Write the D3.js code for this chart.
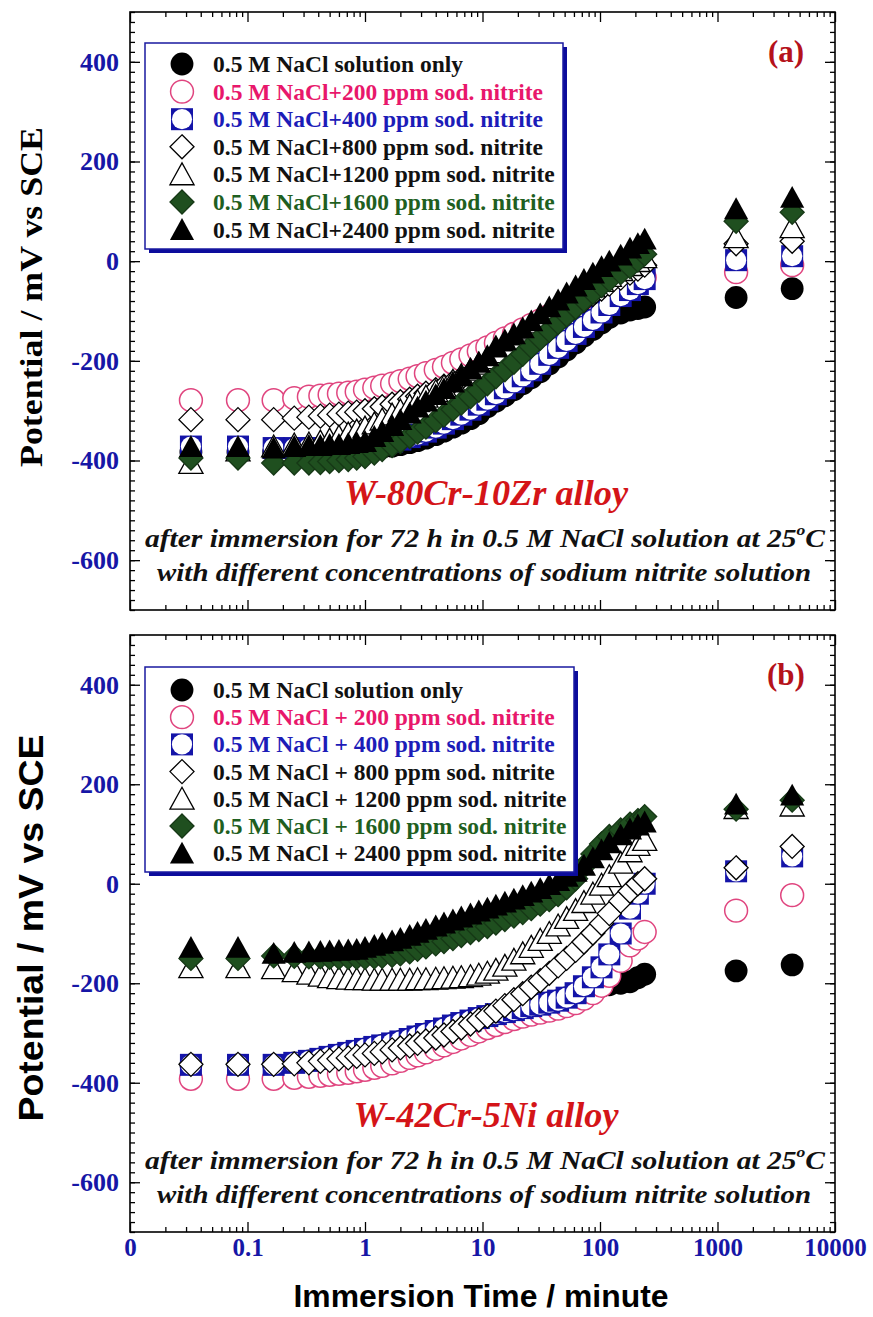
<!DOCTYPE html>
<html><head><meta charset="utf-8">
<script src="https://cdn.jsdelivr.net/npm/d3@7"></script>
<style>body{margin:0;background:#fff}svg{display:block}</style>
</head><body><svg id="c" width="873" height="1317"></svg>
<script>
// ---------------- data ----------------
const timeMin = [0.033,0.083,0.167,0.25,0.333,0.417,0.5,0.6,0.72,0.85,
  1.0,1.2,1.4,1.7,2.0,2.4,2.8,3.3,4.0,4.7,
  5.6,6.6,7.9,9.3,11,13,15.5,18.5,22,26,
  31,37,44,52,62,73,87,103,120,
  150,180,210,240,1440,4320];

const xTickValues = [0.01,0.1,1,10,100,1000,10000];
const xTickLabels = ["0","0.1","1","10","100","1000","10000"];
const yTickValues = [400,200,0,-200,-400,-600];
const yTickLabels = ["400","200","0","-200","-400","-600"];

const legendA = ["0.5 M NaCl solution only","0.5 M NaCl+200 ppm sod. nitrite","0.5 M NaCl+400 ppm sod. nitrite",
  "0.5 M NaCl+800 ppm sod. nitrite","0.5 M NaCl+1200 ppm sod. nitrite","0.5 M NaCl+1600 ppm sod. nitrite","0.5 M NaCl+2400 ppm sod. nitrite"];
const legendB = ["0.5 M NaCl solution only","0.5 M NaCl + 200 ppm sod. nitrite","0.5 M NaCl + 400 ppm sod. nitrite",
  "0.5 M NaCl + 800 ppm sod. nitrite","0.5 M NaCl + 1200 ppm sod. nitrite","0.5 M NaCl + 1600 ppm sod. nitrite","0.5 M NaCl + 2400 ppm sod. nitrite"];

// Panel (a) W-80Cr-10Zr
const a_nacl = [-383,-383,-383,-382,-382,-381,-381,-380,-380,-379,
 -378,-376,-374,-371,-368,-364,-360,-355,-348,-341,
 -333,-325,-316,-306,-292,-281,-270,-258,-246,-234,
 -222,-206,-192,-178,-164,-150,-137,-124,-113,
 -104,-98,-95,-92,-73,-55];
const a_200 = [-279,-279,-279,-275,-272,-270,-268,-266,-264,-262,
 -258,-254,-250,-246,-241,-236,-231,-225,-218,-212,
 -204,-197,-189,-181,-173,-164,-155,-146,-137,-128,
 -119,-110,-101,-92,-83,-74,-66,-58,-52,
 -45,-40,-36,-33,-22,-8];
const a_400 = [-372,-372,-375,-375,-375,-375,-374,-373,-372,-371,
 -370,-368,-366,-362,-358,-353,-348,-342,-334,-326,
 -317,-308,-298,-288,-278,-267,-255,-243,-231,-219,
 -206,-188,-174,-160,-146,-132,-118,-103,-88,
 -70,-58,-46,-36,2,10];
const a_800 = [-318,-318,-318,-315,-313,-311,-309,-307,-305,-303,
 -300,-296,-292,-287,-282,-277,-271,-265,-258,-251,
 -243,-235,-226,-217,-207,-197,-186,-175,-163,-151,
 -139,-127,-115,-103,-91,-79,-67,-56,-46,
 -34,-24,-16,-8,35,40];
const a_1200 = [-405,-380,-372,-368,-366,-362,-358,-352,-346,-340,
 -334,-326,-318,-308,-300,-290,-281,-272,-261,-251,
 -240,-229,-218,-206,-195,-183,-171,-159,-147,-135,
 -123,-111,-99,-87,-75,-63,-51,-40,-30,
 -18,-8,0,8,48,68];
const a_1600 = [-395,-395,-405,-405,-405,-404,-402,-400,-398,-395,
 -392,-385,-378,-370,-362,-352,-343,-333,-320,-309,
 -297,-285,-272,-259,-246,-232,-218,-203,-187,-171,
 -155,-139,-123,-108,-93,-78,-63,-49,-37,
 -23,-11,2,14,80,98];
const a_2400 = [-372,-372,-375,-372,-370,-370,-368,-368,-366,-364,
 -362,-352,-342,-330,-318,-305,-293,-281,-268,-256,
 -243,-230,-216,-203,-190,-170,-158,-146,-134,-120,
 -106,-92,-78,-64,-50,-37,-24,-11,0,
 12,26,35,44,105,128];

// Panel (b) W-42Cr-5Ni
const b_nacl = [-364,-364,-364,-360,-356,-352,-348,-344,-340,-336,
 -332,-328,-325,-321,-317,-312,-307,-302,-296,-291,
 -285,-280,-275,-270,-266,-262,-258,-254,-250,-246,
 -243,-239,-235,-229,-224,-216,-210,-206,-203,
 -200,-197,-189,-182,-175,-163];
const b_200 = [-392,-392,-392,-390,-388,-386,-384,-382,-380,-377,
 -374,-370,-366,-361,-356,-350,-345,-339,-332,-325,
 -318,-311,-304,-297,-290,-284,-278,-272,-267,-263,
 -259,-255,-251,-246,-240,-231,-220,-205,-185,
 -155,-124,-110,-97,-54,-23];
const b_400 = [-364,-364,-364,-360,-356,-352,-348,-344,-340,-336,
 -332,-328,-325,-321,-317,-312,-307,-302,-296,-291,
 -285,-280,-275,-270,-266,-262,-258,-254,-250,-246,
 -243,-239,-235,-229,-220,-206,-188,-168,-142,
 -100,-50,-20,0,25,55];
const b_800 = [-363,-363,-363,-362,-360,-357,-355,-352,-350,-347,
 -344,-341,-338,-334,-330,-326,-321,-316,-310,-304,
 -297,-290,-282,-274,-266,-256,-245,-233,-221,-208,
 -195,-180,-165,-150,-134,-117,-99,-80,-60,
 -35,-15,0,10,32,75];
const b_1200 = [-168,-168,-170,-176,-181,-185,-188,-190,-191,-192,
 -192,-193,-193,-193,-193,-193,-192,-192,-191,-190,
 -189,-188,-186,-183,-179,-173,-165,-153,-140,-127,
 -113,-99,-84,-69,-53,-37,-20,-2,15,
 42,65,78,88,152,157];
const b_1600 = [-150,-150,-145,-146,-147,-147,-148,-148,-148,-148,
 -148,-147,-146,-144,-141,-137,-132,-127,-121,-116,
 -110,-104,-98,-92,-86,-79,-72,-65,-58,-50,
 -41,-32,-22,-8,10,35,60,80,95,
 108,120,127,135,150,168];
const b_2400 = [-128,-128,-140,-138,-137,-136,-135,-134,-133,-132,
 -128,-124,-120,-115,-110,-104,-98,-92,-85,-79,
 -73,-67,-61,-55,-49,-43,-37,-31,-24,-17,
 -10,-2,6,15,25,37,52,68,82,
 98,110,118,124,160,178];

// ---------------- drawing ----------------
const svg = d3.select("#c");
svg.append("rect").attr("width",873).attr("height",1317).attr("fill","#fff");

const SERIF = "'Liberation Serif','Times New Roman',serif";
const SANS = "'Liberation Sans',Arial,sans-serif";
const BLUE = "#1616A6";

const styles = [
  {type:"circle", fill:"#000", stroke:"none", text:"#111"},
  {type:"circle", fill:"#fff", stroke:"#E0457F", text:"#E8176B"},
  {type:"square", fill:"#1414A8", stroke:"none", text:"#1C1CB8"},
  {type:"diamond", fill:"#fff", stroke:"#000", text:"#111"},
  {type:"triangle", fill:"#fff", stroke:"#000", text:"#111"},
  {type:"diamond", fill:"#1F4F1F", stroke:"#163816", text:"#1F5F1F"},
  {type:"triangle", fill:"#000", stroke:"none", text:"#111"}
];

const diamondType = {draw(ctx, s){ ctx.moveTo(0,-s); ctx.lineTo(s,0); ctx.lineTo(0,s); ctx.lineTo(-s,0); ctx.closePath(); }};
const triangleType = {draw(ctx, s){ ctx.moveTo(0,-s); ctx.lineTo(s*1.05,s*0.9); ctx.lineTo(-s*1.05,s*0.9); ctx.closePath(); }};

function addMarker(sel, st){
  if(st.type==="circle"){
    sel.append("path").attr("d", d3.symbol(d3.symbolCircle, 410)())
      .attr("fill", st.fill).attr("stroke", st.stroke).attr("stroke-width",1.5);
  } else if(st.type==="square"){
    sel.append("path").attr("d", d3.symbol(d3.symbolSquare, 484)()).attr("fill", st.fill);
    sel.append("path").attr("d", d3.symbol(d3.symbolCircle, 320)()).attr("fill", "#fff");
  } else if(st.type==="diamond"){
    sel.append("path").attr("d", d3.symbol(diamondType, 12)())
      .attr("fill", st.fill).attr("stroke", st.stroke).attr("stroke-width",1.3);
  } else {
    sel.append("path").attr("d", d3.symbol(triangleType, 11.5)())
      .attr("fill", st.fill).attr("stroke", st.stroke).attr("stroke-width",1.3);
  }
}

const x = d3.scaleLog().domain([0.01,10000]).range([130,835]);
const minorX = [];
for(let e=-2;e<4;e++){ for(let m=2;m<10;m++) minorX.push(m*Math.pow(10,e)); }
const minorY = d3.range(-700,501,20);

function panel(cfg){
  const y = d3.scaleLinear().domain([-700,500]).range([cfg.bot, cfg.top]);
  const g = svg.append("g");

  const styleAxis = s => { s.select(".domain").remove(); s.selectAll("line").attr("stroke","#000").attr("stroke-width",1.3); };
  g.append("g").attr("transform",`translate(0,${cfg.bot})`)
    .call(d3.axisBottom(x).tickValues(minorX).tickSize(-5).tickFormat("")).call(styleAxis);
  g.append("g").attr("transform",`translate(0,${cfg.top})`)
    .call(d3.axisTop(x).tickValues(minorX).tickSize(-5).tickFormat("")).call(styleAxis);
  g.append("g").attr("transform",`translate(0,${cfg.top})`)
    .call(d3.axisTop(x).tickValues(xTickValues).tickSize(-10).tickFormat("")).call(styleAxis);
  const xb = g.append("g").attr("transform",`translate(0,${cfg.bot})`)
    .call(d3.axisBottom(x).tickValues(xTickValues).tickSize(-10).tickPadding(6)
      .tickFormat((d,i)=> cfg.xlabels ? xTickLabels[i] : "")).call(styleAxis);
  xb.selectAll("text").attr("font-family",SERIF).attr("font-weight","bold")
    .attr("font-size",25).attr("fill",BLUE);

  g.append("g").attr("transform","translate(130,0)")
    .call(d3.axisLeft(y).tickValues(minorY).tickSize(-5).tickFormat("")).call(styleAxis);
  g.append("g").attr("transform","translate(835,0)")
    .call(d3.axisRight(y).tickValues(minorY).tickSize(-5).tickFormat("")).call(styleAxis);
  g.append("g").attr("transform","translate(835,0)")
    .call(d3.axisRight(y).tickValues(yTickValues).tickSize(-10).tickFormat("")).call(styleAxis);
  const yl = g.append("g").attr("transform","translate(130,0)")
    .call(d3.axisLeft(y).tickValues(yTickValues).tickSize(-10).tickPadding(11)
      .tickFormat((d,i)=>yTickLabels[i])).call(styleAxis);
  yl.selectAll("text").attr("font-family",SERIF).attr("font-weight","bold")
    .attr("font-size",26).attr("fill",BLUE);

  g.append("rect").attr("x",130).attr("y",cfg.top).attr("width",705).attr("height",cfg.bot-cfg.top)
    .attr("fill","none").attr("stroke","#000").attr("stroke-width",1.6);

  cfg.series.forEach((vals,k)=>{
    g.append("g").selectAll("g").data(timeMin.map((t,i)=>[t,vals[i]])).join("g")
      .attr("transform", d=>`translate(${x(d[0])},${y(d[1])})`)
      .call(sel=>addMarker(sel, styles[k]));
  });

  const L = cfg.legend;
  g.append("rect").attr("x",L.x+4).attr("y",L.y+4).attr("width",L.w).attr("height",L.h).attr("fill","#0C0C9C");
  g.append("rect").attr("x",L.x).attr("y",L.y).attr("width",L.w).attr("height",L.h)
    .attr("fill","#fff").attr("stroke","#1A1AA0").attr("stroke-width",1.5);
  cfg.names.forEach((nm,k)=>{
    const ry = L.y + L.first + k*L.step;
    const mg = g.append("g").attr("transform",`translate(182,${ry})`);
    addMarker(mg, styles[k]);
    g.append("text").attr("x",213).attr("y",ry+8).text(nm)
      .attr("font-family",SERIF).attr("font-weight","bold").attr("font-size",23.5)
      .attr("fill",styles[k].text);
  });

  g.append("text").attr("x",786).attr("y",cfg.top+50).attr("text-anchor","middle")
    .attr("font-family",SERIF).attr("font-weight","bold").attr("font-size",31)
    .attr("fill","#B5121B").text(cfg.letter);

  g.append("text").attr("x",486).attr("y",cfg.bot-105).attr("text-anchor","middle")
    .attr("font-family",SERIF).attr("font-weight","bold").attr("font-style","italic")
    .attr("font-size",35).attr("fill","#D41418")
    .attr("textLength",cfg.alloyLen).attr("lengthAdjust","spacingAndGlyphs").text(cfg.alloy);

  const c1 = g.append("text").attr("x",485).attr("y",cfg.bot-63).attr("text-anchor","middle")
    .attr("font-family",SERIF).attr("font-weight","bold").attr("font-style","italic")
    .attr("font-size",25).attr("fill","#111").attr("textLength",680).attr("lengthAdjust","spacingAndGlyphs");
  c1.append("tspan").text("after immersion for 72 h in 0.5 M NaCl solution at 25");
  c1.append("tspan").attr("font-size",15).attr("dy",-12).text("o");
  c1.append("tspan").attr("dy",12).text("C");
  g.append("text").attr("x",484).attr("y",cfg.bot-29).attr("text-anchor","middle")
    .attr("font-family",SERIF).attr("font-weight","bold").attr("font-style","italic")
    .attr("font-size",25).attr("fill","#111").attr("textLength",654).attr("lengthAdjust","spacingAndGlyphs")
    .text("with different concentrations of sodium nitrite solution");

  const yt = cfg.ytitle;
  svg.append("text").attr("transform",`translate(${yt.x},${yt.y}) rotate(-90)`)
    .attr("text-anchor","middle").attr("font-family",yt.font).attr("font-weight",yt.weight)
    .attr("font-size",yt.size).attr("fill","#000")
    .attr("textLength",yt.len).attr("lengthAdjust","spacingAndGlyphs")
    .text("Potential / mV vs SCE");
}

panel({top:12, bot:610, xlabels:false, letter:"(a)",
  series:[a_nacl,a_200,a_400,a_800,a_1200,a_1600,a_2400], names:legendA,
  legend:{x:145,y:43,w:418,h:206,first:21,step:27.6},
  alloy:"W-80Cr-10Zr alloy", alloyLen:284,
  ytitle:{x:42,y:297,len:340,size:31,font:SERIF,weight:"bold"}});

panel({top:635, bot:1232, xlabels:true, letter:"(b)",
  series:[b_nacl,b_200,b_400,b_800,b_1200,b_1600,b_2400], names:legendB,
  legend:{x:145,y:667,w:429,h:205,first:23,step:27.2},
  alloy:"W-42Cr-5Ni alloy", alloyLen:265,
  ytitle:{x:43,y:928,len:387,size:35,font:SANS,weight:"bold"}});

svg.append("text").attr("x",481).attr("y",1307).attr("text-anchor","middle")
  .attr("font-family",SANS).attr("font-weight","bold").attr("font-size",31)
  .attr("textLength",375).attr("lengthAdjust","spacingAndGlyphs").attr("fill","#000")
  .text("Immersion Time / minute");
</script></body></html>
